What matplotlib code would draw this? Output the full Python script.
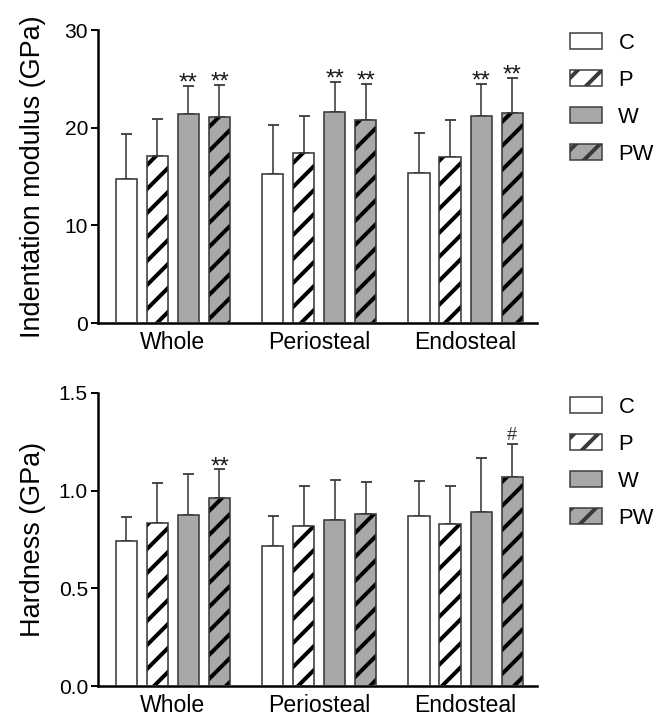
import matplotlib
matplotlib.use("Agg")
import matplotlib.pyplot as plt
import numpy as np
from matplotlib.patches import Patch

plt.rcParams['font.family'] = ['Liberation Sans', 'DejaVu Sans']
plt.rcParams['hatch.linewidth'] = 4

groups = ['Whole', 'Periosteal', 'Endosteal']
series = ['C', 'P', 'W', 'PW']

# indentation modulus (GPa): mean and SD per series, one value per group
modulus_mean = [[14.7, 15.3, 15.4],
                [17.1, 17.4, 17.0],
                [21.4, 21.6, 21.2],
                [21.1, 20.8, 21.5]]
modulus_sd = [[4.7, 5.0, 4.1],
              [3.8, 3.8, 3.8],
              [2.9, 3.1, 3.3],
              [3.3, 3.7, 3.6]]
modulus_marks = [['', '', ''],
                 ['', '', ''],
                 ['**', '**', '**'],
                 ['**', '**', '**']]

# hardness (GPa)
hardness_mean = [[0.74, 0.716, 0.87],
                 [0.834, 0.818, 0.830],
                 [0.876, 0.851, 0.893],
                 [0.964, 0.878, 1.07]]
hardness_sd = [[0.125, 0.155, 0.177],
               [0.206, 0.205, 0.192],
               [0.211, 0.203, 0.276],
               [0.146, 0.166, 0.170]]
hardness_marks = [['', '', ''],
                  ['', '', ''],
                  ['', '', ''],
                  ['**', '', '#']]

fills = ['white', 'white', '#a8a8a8', '#a8a8a8']
hatches = [None, '/', None, '/']
edge = '#3a3a3a'

group_gap = 4.71
bar_w = 0.68
offsets = [-1.5, -0.5, 0.5, 1.5]


def bar_panel(ax, means, sds, marks, ylabel, ymax, yticks, ytick_labels):
    x = np.arange(len(groups)) * group_gap
    for i in range(len(series)):
        xs = x + offsets[i]
        # fill + hatch (black hatch), then gray outline on top
        ax.bar(xs, means[i], width=bar_w, color=fills[i], hatch=hatches[i],
               edgecolor='black', linewidth=0, zorder=2)
        ax.bar(xs, means[i], width=bar_w, fill=False, edgecolor=edge,
               linewidth=1.6, zorder=3)
        ax.errorbar(xs, means[i], yerr=[np.zeros(len(groups)), sds[i]],
                    fmt='none', ecolor=edge, elinewidth=1.6, capsize=5.5,
                    capthick=1.8, zorder=1)
        for j in range(len(groups)):
            if marks[i][j] == '**':
                ax.annotate('**', (xs[j], means[i][j] + sds[i][j]),
                            xytext=(0, -9), textcoords='offset points',
                            ha='center', va='bottom', fontsize=24, color='#1a1a1a')
            elif marks[i][j]:
                ax.annotate(marks[i][j], (xs[j], means[i][j] + sds[i][j]),
                            xytext=(0, 0), textcoords='offset points',
                            ha='center', va='bottom', fontsize=18, color='#333333')
    ax.set_xlim(-1.5 - 0.91, 2 * group_gap + 1.5 + 0.8)
    ax.set_ylim(0, ymax)
    ax.set_yticks(yticks)
    ax.set_yticklabels(ytick_labels, fontsize=21)
    ax.set_xticks(x)
    ax.set_xticklabels(groups, fontsize=23)
    ax.tick_params(axis='x', length=0, pad=8)
    ax.tick_params(axis='y', length=7, width=2, pad=3)
    ax.spines['top'].set_visible(False)
    ax.spines['right'].set_visible(False)
    ax.spines['left'].set_linewidth(2.5)
    ax.spines['bottom'].set_linewidth(2.5)
    ax.set_ylabel(ylabel, fontsize=27)
    ax.yaxis.set_label_coords(-0.118, 0.5)

    handles = [Patch(facecolor=fills[i], hatch=hatches[i], edgecolor=edge,
                     linewidth=1.5) for i in range(len(series))]
    return handles


fig = plt.figure(figsize=(662 / 72, 722 / 72), dpi=72)
ax1 = fig.add_axes([98 / 662, 1 - 323 / 722, 439 / 662, 293 / 722])
ax2 = fig.add_axes([98 / 662, 1 - 686 / 722, 439 / 662, 293 / 722])

h1 = bar_panel(ax1, modulus_mean, modulus_sd, modulus_marks,
               'Indentation modulus (GPa)', 30, [0, 10, 20, 30],
               ['0', '10', '20', '30'])
h2 = bar_panel(ax2, hardness_mean, hardness_sd, hardness_marks,
               'Hardness (GPa)', 1.5, [0, 0.5, 1.0, 1.5],
               ['0.0', '0.5', '1.0', '1.5'])

for handles, top in [(h1, 33), (h2, 397)]:
    fig.legend(handles, series, loc='upper left',
               bbox_to_anchor=(570 / 662, 1 - top / 722),
               frameon=False, fontsize=22, handlelength=1.45, handleheight=0.75,
               handletextpad=0.75, labelspacing=0.72, borderpad=0, borderaxespad=0)

plt.savefig('out.png', dpi=72)
